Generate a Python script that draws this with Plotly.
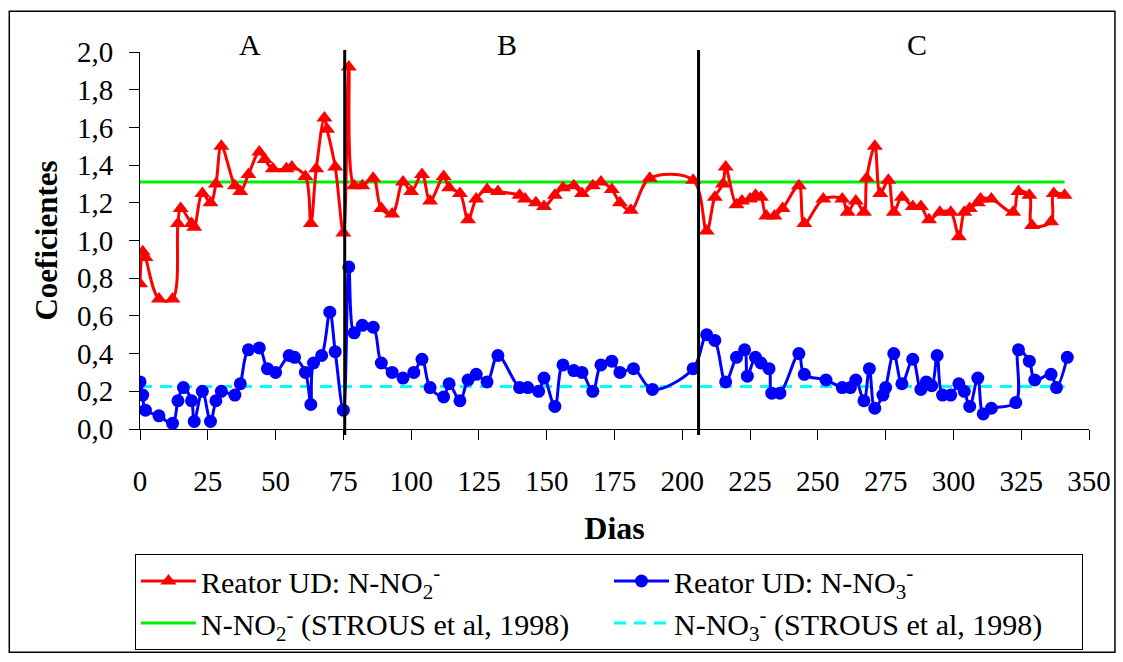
import plotly.graph_objects as go

# Reator UD: razão N-NO2- consumido (triângulos vermelhos)
no2_dias = [0, 1, 2, 7, 12, 14, 15, 19, 20, 23, 26, 28, 30, 35, 37, 40, 44, 46, 49, 54,
            56, 61, 63, 65, 68, 69, 72, 75, 77, 79, 82, 86, 89, 93, 97, 100, 104, 107, 112, 114,
            118, 121, 124, 128, 132, 140, 142, 146, 149, 153, 156, 160, 163, 167, 170, 174, 177, 181, 188, 204,
            209, 212, 215, 216, 220, 222, 225, 227, 229, 231, 234, 237, 243, 245, 252, 259, 261, 264, 267, 268,
            271, 273, 276, 278, 281, 285, 288, 291, 295, 299, 302, 304, 306, 309, 310, 314, 322, 324, 328, 329,
            336, 337, 341]
no2_coef = [0.77, 0.94, 0.91, 0.69, 0.69, 1.09, 1.17, 1.09, 1.07, 1.25, 1.20, 1.30, 1.50, 1.29, 1.26, 1.35, 1.47, 1.43, 1.38, 1.38,
            1.39, 1.34, 1.09, 1.38, 1.65, 1.59, 1.39, 1.04, 1.92, 1.29, 1.29, 1.33, 1.17, 1.14, 1.31, 1.26, 1.35, 1.21, 1.34, 1.28,
            1.25, 1.11, 1.22, 1.27, 1.26, 1.24, 1.22, 1.20, 1.18, 1.24, 1.28, 1.29, 1.25, 1.29, 1.31, 1.27, 1.20, 1.16, 1.33, 1.32,
            1.05, 1.23, 1.30, 1.39, 1.19, 1.21, 1.22, 1.24, 1.23, 1.13, 1.13, 1.17, 1.29, 1.09, 1.22, 1.22, 1.15, 1.21, 1.15, 1.33,
            1.50, 1.25, 1.32, 1.15, 1.23, 1.18, 1.18, 1.11, 1.15, 1.15, 1.02, 1.15, 1.17, 1.20, 1.22, 1.22, 1.15, 1.26, 1.24, 1.08,
            1.10, 1.25, 1.24]

# Reator UD: razão N-NO3- produzido (círculos azuis)
no3_dias = [0, 1, 2, 7, 12, 14, 16, 19, 20, 23, 26, 28, 30, 35, 37, 40, 44, 47, 50, 55,
            57, 61, 63, 64, 67, 70, 72, 75, 77, 79, 82, 86, 89, 93, 97, 101, 104, 107, 112, 114,
            118, 121, 124, 128, 132, 140, 143, 147, 149, 153, 156, 160, 163, 167, 170, 174, 177, 182, 189, 204,
            209, 212, 216, 220, 223, 224, 227, 229, 232, 233, 236, 243, 245, 253, 259, 262, 264, 267, 269, 271,
            274, 275, 278, 281, 285, 288, 290, 292, 294, 296, 299, 302, 304, 306, 309, 311, 314, 323, 324, 328,
            330, 336, 338, 342]
no3_coef = [0.25, 0.18, 0.10, 0.07, 0.03, 0.15, 0.22, 0.15, 0.04, 0.20, 0.04, 0.15, 0.20, 0.18, 0.24, 0.42, 0.43, 0.32, 0.30, 0.39,
            0.38, 0.30, 0.13, 0.35, 0.39, 0.62, 0.41, 0.10, 0.86, 0.51, 0.55, 0.54, 0.35, 0.30, 0.27, 0.30, 0.37, 0.22, 0.17, 0.24,
            0.15, 0.26, 0.29, 0.25, 0.39, 0.22, 0.22, 0.20, 0.27, 0.12, 0.34, 0.31, 0.30, 0.20, 0.34, 0.36, 0.30, 0.32, 0.21, 0.32,
            0.50, 0.47, 0.25, 0.38, 0.42, 0.28, 0.38, 0.35, 0.32, 0.19, 0.19, 0.40, 0.29, 0.26, 0.22, 0.22, 0.26, 0.15, 0.32, 0.11,
            0.18, 0.22, 0.40, 0.24, 0.37, 0.21, 0.25, 0.23, 0.39, 0.18, 0.18, 0.24, 0.20, 0.12, 0.27, 0.08, 0.11, 0.14, 0.42, 0.36,
            0.26, 0.29, 0.22, 0.38]

# Coeficientes estequiométricos de referência (STROUS et al, 1998)
strous_dias = [0, 341]
strous_no2 = [1.31, 1.31]
strous_no3 = [0.225, 0.225]

# Fases de operação
fase_limites = [75.5, 206]
fase_rotulos = ["A", "B", "C"]
fase_centros = [40.5, 135.5, 286.5]

x_ticks = list(range(0, 351, 25))
y_ticks = [0.0, 0.2, 0.4, 0.6, 0.8, 1.0, 1.2, 1.4, 1.6, 1.8, 2.0]
y_ticktext = [f"{v:.1f}".replace(".", ",") for v in y_ticks]

FONT = "'Liberation Serif', 'Times New Roman', serif"
W_FIG, H_FIG = 1123, 662
M_L, M_R, M_T, M_B = 140, 32, 52, 230
W_PLOT = W_FIG - M_L - M_R
H_PLOT = H_FIG - M_T - M_B


def px_x(px):
    return (px - M_L) / W_PLOT


def px_y(py):
    return (H_FIG - M_B - py) / H_PLOT


fig = go.Figure()

fig.add_trace(go.Scatter(
    x=strous_dias, y=strous_no2, mode="lines",
    name="N-NO<sub>2</sub><sup>-</sup> (STROUS et al, 1998)",
    line=dict(color="#00ee00", width=3), legendrank=3,
))
fig.add_trace(go.Scatter(
    x=strous_dias, y=strous_no3, mode="lines",
    name="N-NO<sub>3</sub><sup>-</sup> (STROUS et al, 1998)",
    line=dict(color="#00ffff", width=3, dash="12px,8px"), legendrank=4,
))
fig.add_trace(go.Scatter(
    x=no2_dias, y=no2_coef, mode="lines+markers",
    name="Reator UD: N-NO<sub>2</sub><sup>-</sup>",
    line=dict(color="#ff0000", width=3, shape="spline", smoothing=1.0),
    marker=dict(symbol="triangle-up", size=14, color="#ff0000"),
    legendrank=1,
))
fig.add_trace(go.Scatter(
    x=no3_dias, y=no3_coef, mode="lines+markers",
    name="Reator UD: N-NO<sub>3</sub><sup>-</sup>",
    line=dict(color="#0000ff", width=3, shape="spline", smoothing=1.0),
    marker=dict(symbol="circle", size=13, color="#0000ff"),
    legendrank=2,
))

shapes = []
for xl in fase_limites:
    shapes.append(dict(type="line", xref="x", yref="paper", x0=xl, x1=xl,
                       y0=px_y(438), y1=px_y(50),
                       line=dict(color="black", width=3), layer="above"))
# moldura externa
shapes.append(dict(type="rect", xref="paper", yref="paper",
                   x0=px_x(9), x1=px_x(1117), y0=px_y(657), y1=px_y(11),
                   line=dict(color="black", width=1.5), layer="below"))

annotations = []
for lbl, xc in zip(fase_rotulos, fase_centros):
    annotations.append(dict(x=xc, y=px_y(44), xref="x", yref="paper", text=lbl,
                            showarrow=False, yanchor="middle", xanchor="center",
                            font=dict(family=FONT, size=30, color="black")))

fig.update_layout(
    width=W_FIG, height=H_FIG,
    margin=dict(l=M_L, r=M_R, t=M_T, b=M_B),
    paper_bgcolor="white", plot_bgcolor="white",
    font=dict(family=FONT, size=28, color="black"),
    shapes=shapes, annotations=annotations,
    showlegend=True,
    legend=dict(
        orientation="h", x=px_x(135), y=px_y(558), xanchor="left", yanchor="top",
        bordercolor="black", borderwidth=1, bgcolor="white",
        itemwidth=55, entrywidth=403, entrywidthmode="pixels",
        font=dict(family=FONT, size=30, color="black"),
        traceorder="normal",
    ),
    xaxis=dict(
        range=[0, 350], tickmode="array", tickvals=x_ticks,
        ticks="outside", ticklen=10, tickwidth=1, tickcolor="black",
        showline=True, linecolor="black", linewidth=1, showgrid=False, zeroline=False,
        tickfont=dict(family=FONT, size=29), ticklabelstandoff=16,
        title=dict(text="<b>Dias</b>", font=dict(family=FONT, size=32), standoff=20),
    ),
    yaxis=dict(
        range=[0, 2], tickmode="array", tickvals=y_ticks, ticktext=y_ticktext,
        ticks="outside", ticklen=10, tickwidth=1, tickcolor="black",
        showline=True, linecolor="black", linewidth=1, showgrid=False, zeroline=False,
        tickfont=dict(family=FONT, size=29), ticklabelstandoff=10,
        title=dict(text="<b>Coeficientes</b>", font=dict(family=FONT, size=31), standoff=10),
    ),
)

fig.write_html("out.html", post_script="document.body.style.margin='0';")
